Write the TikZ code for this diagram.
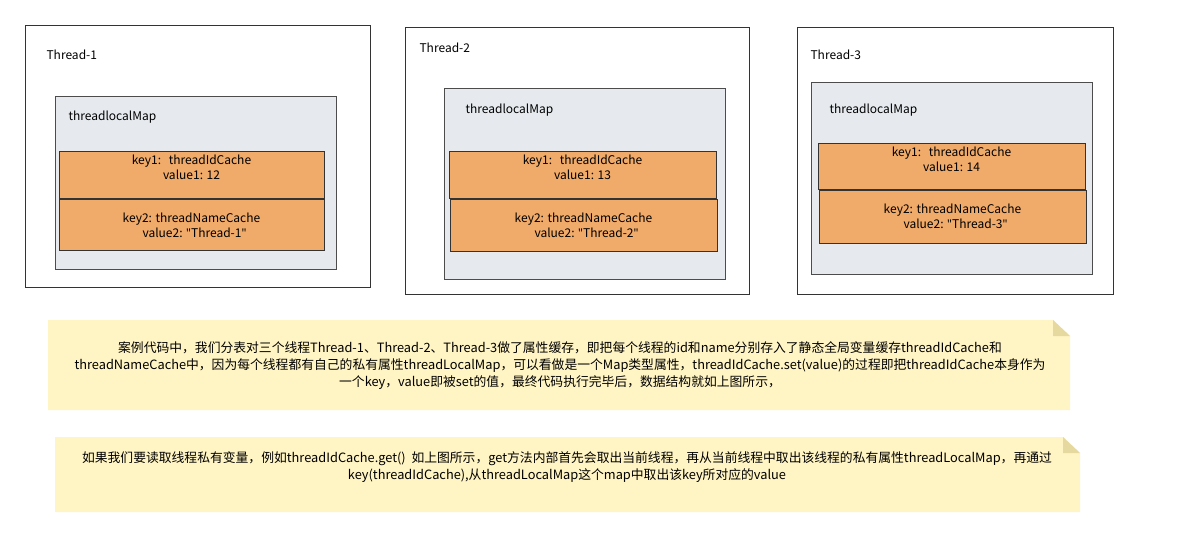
\documentclass[tikz,border=0pt]{standalone}
\usepackage{fontspec}
\setmainfont{Noto Sans CJK SC}
\newfontfamily\latf{Noto Sans}
\newcommand{\dq}{{\latf\symbol{34}}}
\begin{document}
\begin{tikzpicture}[x=1pt,y=-1pt,
  thr/.style={draw=black!80,line width=1pt,fill=white},
  mapbox/.style={draw=black!70,line width=0.8pt,fill=mapc},
  kv/.style={draw=black!80,line width=0.8pt,fill=kvc},
  lbl/.style={anchor=west,font=\fontsize{12}{14}\selectfont},
  kvt/.style={align=center,font=\fontsize{12}{15}\selectfont},
  nt/.style={align=center,font=\fontsize{12.8}{17}\selectfont}]
\definecolor{mapc}{HTML}{E6EAEE}
\definecolor{kvc}{HTML}{F0AA69}
\definecolor{notec}{HTML}{FFF4C3}
\definecolor{foldc}{HTML}{E6D9A0}
\useasboundingbox (0,0) rectangle (1201,536);
\fill[white] (0,0) rectangle (1201,536);
% Thread 1
\draw[thr] (25,25) rectangle (370,287);
\node[lbl] (t1) at (43,55) {Thread-1};
\draw[mapbox] (55,96) rectangle (336,269);
\node[lbl] (m1) at (65,117) {threadlocalMap};
\draw[kv] (59,151) rectangle (324,198);
\node[kvt] (k11) at (191.5,167) {key1:\,\, threadIdCache\\value1: 12};
\draw[kv] (59,199) rectangle (324,250);
\node[kvt] (k12) at (191.5,225) {key2: threadNameCache\\\,\,\,value2: \dq Thread-1\dq};
% Thread 2
\draw[thr] (405,27) rectangle (749,294);
\node[lbl] (t2) at (416,48) {Thread-2};
\draw[mapbox] (444,88) rectangle (725,279);
\node[lbl] (m2) at (462,110) {threadlocalMap};
\draw[kv] (449,151) rectangle (716,198);
\node[kvt] (k21) at (582.5,167) {key1:\,\, threadIdCache\\value1: 13};
\draw[kv] (450,199) rectangle (717,251);
\node[kvt] (k22) at (583.5,225) {key2: threadNameCache\\\,\,\,value2: \dq Thread-2\dq};
% Thread 3
\draw[thr] (797,27) rectangle (1113,294);
\node[lbl] (t3) at (807,55) {Thread-3};
\draw[mapbox] (811,82) rectangle (1092,274);
\node[lbl] (m3) at (826,110) {threadlocalMap};
\draw[kv] (818,143) rectangle (1085,189);
\node[kvt] (k31) at (951.5,159) {key1:\,\, threadIdCache\\value1: 14};
\draw[kv] (819,190) rectangle (1086,243);
\node[kvt] (k32) at (952.5,216) {key2: threadNameCache\\\,\,\,value2: \dq Thread-3\dq};
% Note 1
\fill[notec] (48,320) -- (1053,320) -- (1070,336) -- (1070,410) -- (48,410) -- cycle;
\fill[foldc] (1053,320) -- (1070,336) -- (1053,336) -- cycle;
\node[nt] (n1) at (560,366) {案例代码中，我们分表对三个线程Thread-1、Thread-2、Thread-3做了属性缓存，即把每个线程的id和name分别存入了静态全局变量缓存threadIdCache和\\threadNameCache中，因为每个线程都有自己的私有属性threadLocalMap，可以看做是一个Map类型属性，threadIdCache.set(value)的过程即把threadIdCache本身作为\\一个key，value即被set的值，最终代码执行完毕后，数据结构就如上图所示，};
% Note 2
\fill[notec] (55,437) -- (1063,437) -- (1080,453) -- (1080,512) -- (55,512) -- cycle;
\fill[foldc] (1063,437) -- (1080,453) -- (1063,453) -- cycle;
\node[nt] (n2) at (567,467) {如果我们要读取线程私有变量，例如threadIdCache.get()\ \ 如上图所示，get方法内部首先会取出当前线程，再从当前线程中取出该线程的私有属性threadLocalMap，再通过\\key(threadIdCache),从threadLocalMap这个map中取出该key所对应的value};
\end{tikzpicture}
\end{document}
